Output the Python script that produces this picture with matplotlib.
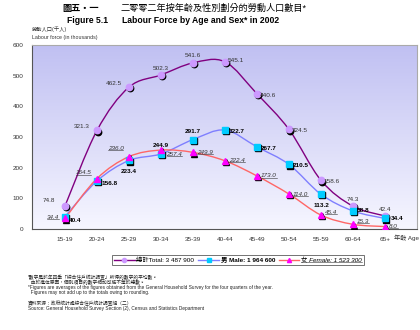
import numpy as np
import matplotlib
matplotlib.use("Agg")
import matplotlib.pyplot as plt
from matplotlib.path import Path
from matplotlib.patches import PathPatch
from matplotlib.lines import Line2D
import matplotlib.transforms as mtransforms

plt.rcParams['font.family'] = ['Liberation Sans', 'Noto Sans CJK TC', 'DejaVu Sans']

ages = ["15-19", "20-24", "25-29", "30-34", "35-39", "40-44", "45-49",
        "50-54", "55-59", "60-64", "65+"]
total = [74.8, 321.3, 462.5, 502.3, 541.6, 545.1, 440.6, 324.5, 158.6, 74.3, 42.4]
male = [40.4, 156.8, 223.4, 244.9, 291.7, 322.7, 267.7, 210.5, 113.2, 58.8, 34.4]
female = [34.4, 164.5, 236.0, 257.4, 249.9, 222.4, 173.0, 114.0, 45.4, 15.3, 8.0]
yticks = [0, 100, 200, 300, 400, 500, 600]
legend_labels = ["總計Total: 3 487 900", "男 Male: 1 964 600", "女 Female: 1 523 300"]

W, H = 420, 330
fig = plt.figure(figsize=(W / 100, H / 100), dpi=100)
ax = fig.add_axes([32 / W, 1 - 229 / H, (417 - 32) / W, (229 - 45) / H])

x = np.arange(len(ages))
ax.set_xlim(-1.03, 11.0)
ax.set_ylim(0, 600)

# gradient background
grad = np.linspace(0, 1, 256).reshape(-1, 1)
top = np.array([192, 192, 242]) / 255
bot = np.array([246, 246, 255]) / 255
img = bot + (top - bot) * grad
ax.imshow(img[:, None, :].repeat(2, axis=1), extent=[0, 1, 0, 1], transform=ax.transAxes,
          aspect='auto', origin='lower', zorder=0)

def smooth(ax, xs, ys, color, lw):
    pts = np.column_stack([xs, ys]).astype(float)
    n = len(pts)
    verts = [pts[0]]
    codes = [Path.MOVETO]
    for i in range(n - 1):
        p0 = pts[i - 1] if i > 0 else pts[i]
        p1 = pts[i]
        p2 = pts[i + 1]
        p3 = pts[i + 2] if i + 2 < n else pts[i + 1]
        c1 = p1 + (p2 - p0) / 6
        c2 = p2 - (p3 - p1) / 6
        verts += [c1, c2, p2]
        codes += [Path.CURVE4] * 3
    ax.add_patch(PathPatch(Path(verts, codes), fill=False, edgecolor=color, lw=lw, zorder=3))

shadow = mtransforms.offset_copy(ax.transData, fig=fig, x=1.2, y=-1.2, units='dots')

series = [
    (total, '#800080', 'o', '#cc99ff', 1.0, 4.6),
    (male, '#7f7fff', 's', '#00ccff', 1.0, 4.2),
    (female, '#ff6666', '^', '#ff00ff', 1.0, 4.8),
]
for ys, lc, mk, mc, lw, ms in series:
    smooth(ax, x, ys, lc, lw)
    ax.plot(x, ys, ls='none', marker=mk, ms=ms, color='black', transform=shadow, zorder=4)
    ax.plot(x, ys, ls='none', marker=mk, ms=ms, color=mc, mec=mc, zorder=5)

fs = 4.6
tot_off = [(-7, 4, 'right'), (-5, 3, 'right'), (-5, 3, 'right'), (0, 5, 'center'), (0, 5, 'center'),
           (2, 1, 'left'), (2, -1, 'left'), (2, -1, 'left'), (2, -1, 'left'), (0, 5, 'center'), (0, 5, 'center')]
male_off = [(3, -3, 'left'), (3, -2, 'left'), (0, -8, 'center'), (0, 6, 'center'), (0, 6, 'center'),
            (3, -1, 'left'), (3, -1, 'left'), (3, -1, 'left'), (0, -8, 'center'), (3, 0, 'left'), (4, 0, 'left')]
fem_off = [(-4, 1, 'right'), (-4, 4, 'right'), (-4, 6, 'right'), (4, -3, 'left'), (3, 0, 'left'),
           (3, 0, 'left'), (3, 0, 'left'), (3, 0, 'left'), (3, 2, 'left'), (3, 2, 'left'), (3, 0, 'left')]

fem_texts = []
for i in range(len(ages)):
    dx, dy, ha = tot_off[i]
    ax.annotate(f"{total[i]:.1f}", (x[i], total[i]), xytext=(dx, dy), textcoords='offset points',
                ha=ha, va='center', fontsize=fs, color='#333333', zorder=6)
    dx, dy, ha = male_off[i]
    ax.annotate(f"{male[i]:.1f}", (x[i], male[i]), xytext=(dx, dy), textcoords='offset points',
                ha=ha, va='center', fontsize=fs, color='black', fontweight='bold', zorder=6)
    dx, dy, ha = fem_off[i]
    t = ax.annotate(f"{female[i]:.1f}", (x[i], female[i]), xytext=(dx, dy), textcoords='offset points',
                    ha=ha, va='center', fontsize=fs, color='#333333', fontstyle='italic', zorder=6)
    fem_texts.append(t)

ax.set_xticks(x)
ax.set_xticklabels(ages, fontsize=4.6, color='#333333')
ax.set_yticks(yticks)
ax.set_yticklabels([str(v) for v in yticks], fontsize=4.6, color='#333333')
ax.tick_params(length=0, pad=6)
for s in ['top', 'right']:
    ax.spines[s].set_color('#aaaaaa')
    ax.spines[s].set_linewidth(0.8)
for s in ['left', 'bottom']:
    ax.spines[s].set_color('#555555')
    ax.spines[s].set_linewidth(0.8)

fig.text(394 / W, 1 - 238 / H, "年齡 Age", fontsize=4.5, color='#333333', va='center', ha='left')

# titles
fig.text(62 / W, 1 - 8 / H, "圖五・一", fontsize=6.6, fontweight='bold', va='center', ha='left')
fig.text(121 / W, 1 - 8 / H, "二零零二年按年齡及性別劃分的勞動人口數目*", fontsize=6.6, va='center', ha='left')
fig.text(67 / W, 1 - 20.5 / H, "Figure 5.1", fontsize=6.2, fontweight='bold', va='center', ha='left')
fig.text(122 / W, 1 - 20.5 / H, "Labour Force by Age and Sex* in 2002", fontsize=6.2, fontweight='bold',
         va='center', ha='left')
fig.text(32 / W, 1 - 29 / H, "勞動人口(千人)", fontsize=3.8, color='#333333', va='center', ha='left')
fig.text(32 / W, 1 - 37 / H, "Labour force (in thousands)", fontsize=3.8, color='#333333', va='center', ha='left')

# legend
handles = [Line2D([], [], color=c, marker=m, mfc=mc, mec=mc, ms=3, lw=1) for _, c, m, mc, _, _ in series]
leg = fig.legend(handles, legend_labels, loc='center', bbox_to_anchor=(238 / W, 1 - 260 / H),
                 ncol=3, fontsize=4.6, frameon=True, fancybox=False, edgecolor='#333333',
                 handlelength=3.2, handletextpad=0.3, columnspacing=0.6, borderpad=0.3,
                 borderaxespad=0)
leg.get_frame().set_linewidth(0.6)
texts = leg.get_texts()
texts[1].set_fontweight('bold')
texts[2].set_fontstyle('italic')

notes = [
    (277, "*數字是該年四季「綜合住戶統計調查」所得的數字的平均數。"),
    (282.5, "  由於進位原因，個別項目的數字相加可能不等於總數。"),
    (287.5, "*Figures are averages of the figures obtained from the General Household Survey for the four quarters of the year."),
    (292.5, "  Figures may not add up to the totals owing to rounding."),
    (303.5, "資料來源：政府統計處綜合住戶統計調查組（二）"),
    (308.5, "Source: General Household Survey Section (2), Census and Statistics Department"),
]
for yy, t in notes:
    fig.text(28 / W, 1 - yy / H, t, fontsize=3.4, color='#222222', va='center', ha='left')

# underline the female labels and legend entry
fig.canvas.draw()
renderer = fig.canvas.get_renderer()
inv = fig.transFigure.inverted()
for t in fem_texts + [texts[2]]:
    bb = t.get_window_extent(renderer)
    (x0, y0), (x1, _) = inv.transform([(bb.x0, bb.y0 + 0.8), (bb.x1, bb.y0)])
    fig.add_artist(Line2D([x0, x1], [y0, y0], transform=fig.transFigure, color='#333333', lw=0.4, zorder=7))

fig.savefig("out.png", dpi=100)
